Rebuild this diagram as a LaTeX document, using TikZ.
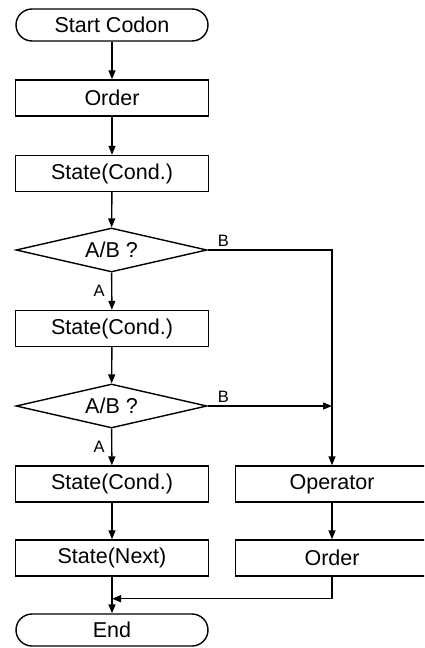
\documentclass[tikz,border=0pt]{standalone}
\usepackage{fontspec}
\setmainfont{Liberation Sans}
\usetikzlibrary{shapes.geometric,arrows.meta,calc}

\tikzset{
  every picture/.style={x=1pt,y=-1pt},
  txt/.style={font=\fontsize{21.5}{24}\selectfont},
  base/.style={draw=black,line width=1.4pt,inner sep=0pt,txt},
  procbox/.style={base,rectangle,minimum width=193pt,minimum height=36pt},
  terminal/.style={base,rectangle,rounded corners=16pt,minimum width=192pt,minimum height=32pt},
  decision/.style={base,diamond,minimum width=191pt,minimum height=44pt},
  lbl/.style={inner sep=0pt,font=\fontsize{16.5}{18}\selectfont},
  arr/.style={line width=1.4pt,-{Triangle[length=9pt,width=7pt]}},
}

\begin{document}
\begin{tikzpicture}
\useasboundingbox (0,0) rectangle (424,648);
\clip (0,0) rectangle (424,648);

% main column
\node[terminal] (start) at (112,25)    {Start Codon};
\node[procbox]  (ord)   at (112,98)    {Order};
\node[procbox]  (s1)    at (112,173.5) {State(Cond.)};
\node[decision,label={[txt]center:A/B ?}] (d1) at (111.5,250) {};
\node[procbox]  (s2)    at (112,328.5) {State(Cond.)};
\node[decision,label={[txt]center:A/B ?}] (d2) at (111.5,406) {};
\node[procbox]  (s3)    at (112,484)   {State(Cond.)};
\node[procbox]  (nx)    at (112,558)   {State(Next)};
\node[terminal] (en)    at (112,630)   {End};

% side column
\node[procbox]  (op)    at (332,484)   {Operator};
\node[procbox]  (ord2)  at (332,558)   {Order};

% main flow
\draw[arr] (start) -- (ord);
\draw[arr] (ord) -- (s1);
\draw[arr] (s1) -- (d1);
\draw[arr] (d1) -- (s2);
\draw[arr] (s2) -- (d2);
\draw[arr] (d2) -- (s3);
\draw[arr] (s3) -- (nx);
\draw[arr] (nx) -- (en);

% branch B
\coordinate (bend) at (op.north |- d1.east);
\draw[arr] (d1.east) -- (bend) -- (op.north);
\draw[arr] (d2.east) -- (d2.east -| op.north);
\draw[arr] (op) -- (ord2);

% return to the end
\coordinate (merge) at ($(nx.south)+(0,22)$);
\draw[arr] (ord2.south) |- (merge);

% branch labels
\node[lbl,anchor=south west] at ([xshift=10pt,yshift=3pt]d1.east) {B};
\node[lbl,anchor=south west] at ([xshift=10pt,yshift=3pt]d2.east) {B};
\node[lbl,anchor=east] at ($($(d1.south)!0.5!(s2.north)$)+(-7,0)$) {A};
\node[lbl,anchor=east] at ($($(d2.south)!0.5!(s3.north)$)+(-7,0)$) {A};
\end{tikzpicture}
\end{document}
